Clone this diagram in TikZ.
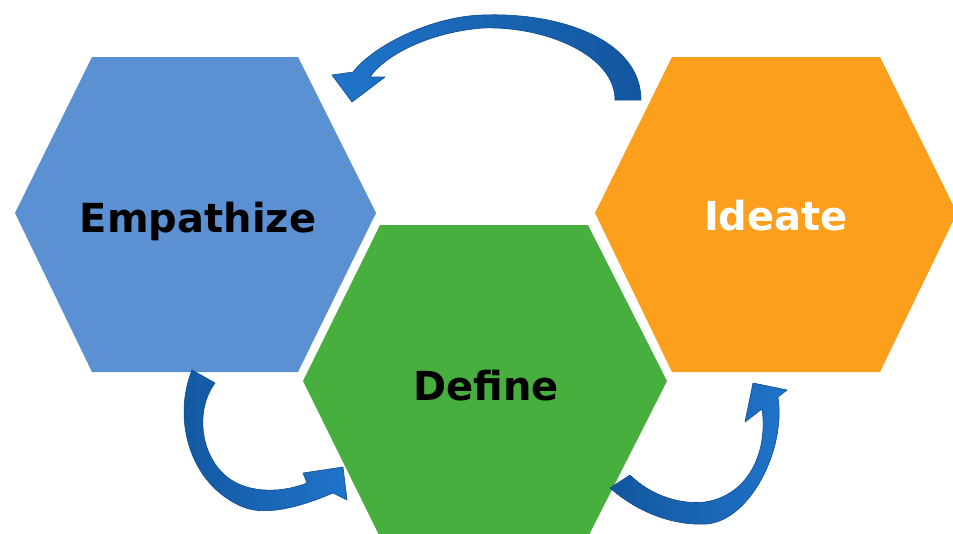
\documentclass[tikz,border=0pt]{standalone}
\usepackage{fontspec}
\setmainfont{DejaVu Sans}
\definecolor{hexblue}{HTML}{5B90D3}
\definecolor{hexgreen}{HTML}{46AF3E}
\definecolor{hexorange}{HTML}{FB9F1D}
\definecolor{arrdark}{HTML}{13569E}
\definecolor{arrlight}{HTML}{1F74CA}
\definecolor{arredge}{HTML}{0E4B8F}
\begin{document}
\begin{tikzpicture}[x=1pt,y=-1pt,
  lbl/.style={font=\fontsize{40}{48}\selectfont\bfseries, anchor=base, inner sep=0pt},
  barrow/.style={draw=arredge, line width=0.6pt, line join=round}]
\useasboundingbox (0,0) rectangle (953,533);
\fill[white] (0,0) rectangle (953,533);
% hexagons
\fill[hexblue] (92,57) -- (298,57) -- (376,213) -- (298,372) -- (92,372) -- (15,213) -- cycle;
\fill[hexgreen] (380,225) -- (588,225) -- (667,381) -- (588,537) -- (380,537) -- (303,381) -- cycle;
\fill[hexorange] (672,57) -- (880,57) -- (957,213) -- (880,372) -- (672,372) -- (595,213) -- cycle;
% labels
\node[lbl, text=black] (emp) at (198,232) {Empathize};
\node[lbl, text=black] (def) at (486,400) {Define};
\node[lbl, text=white] (ide) at (776,230) {Ideate};
% top arrow (Ideate -> Empathize)
\path[barrow, left color=arrlight, right color=arrdark]
  (641,100) .. controls (641,40) and (560,12) .. (483,15)
  .. controls (433,16) and (374,45) .. (353,72)
  -- (332,75) -- (352,102) -- (385,77) -- (370,77)
  .. controls (385,55) and (430,32) .. (483,28)
  .. controls (545,26) and (615,55) .. (615,100) -- cycle;
% bottom-left arrow (Empathize -> Define)
\path[barrow, left color=arrdark, right color=arrlight]
  (192,370) .. controls (172,420) and (190,485) .. (243,507)
  .. controls (268,517) and (305,505) .. (333,493)
  -- (347,500) -- (343,467) -- (303,473) -- (307,483)
  .. controls (285,492) and (250,495) .. (227,477)
  .. controls (200,455) and (195,410) .. (215,383) -- cycle;
% bottom-right arrow (Define -> Ideate)
\path[barrow, left color=arrdark, right color=arrlight]
  (610,488) .. controls (635,510) and (670,526) .. (707,524)
  .. controls (750,520) and (786,450) .. (778,397)
  -- (787,390) -- (753,383) -- (745,422) -- (762,409)
  .. controls (768,450) and (750,495) .. (705,502)
  .. controls (680,505) and (650,495) .. (630,475) -- cycle;
\end{tikzpicture}
\end{document}
